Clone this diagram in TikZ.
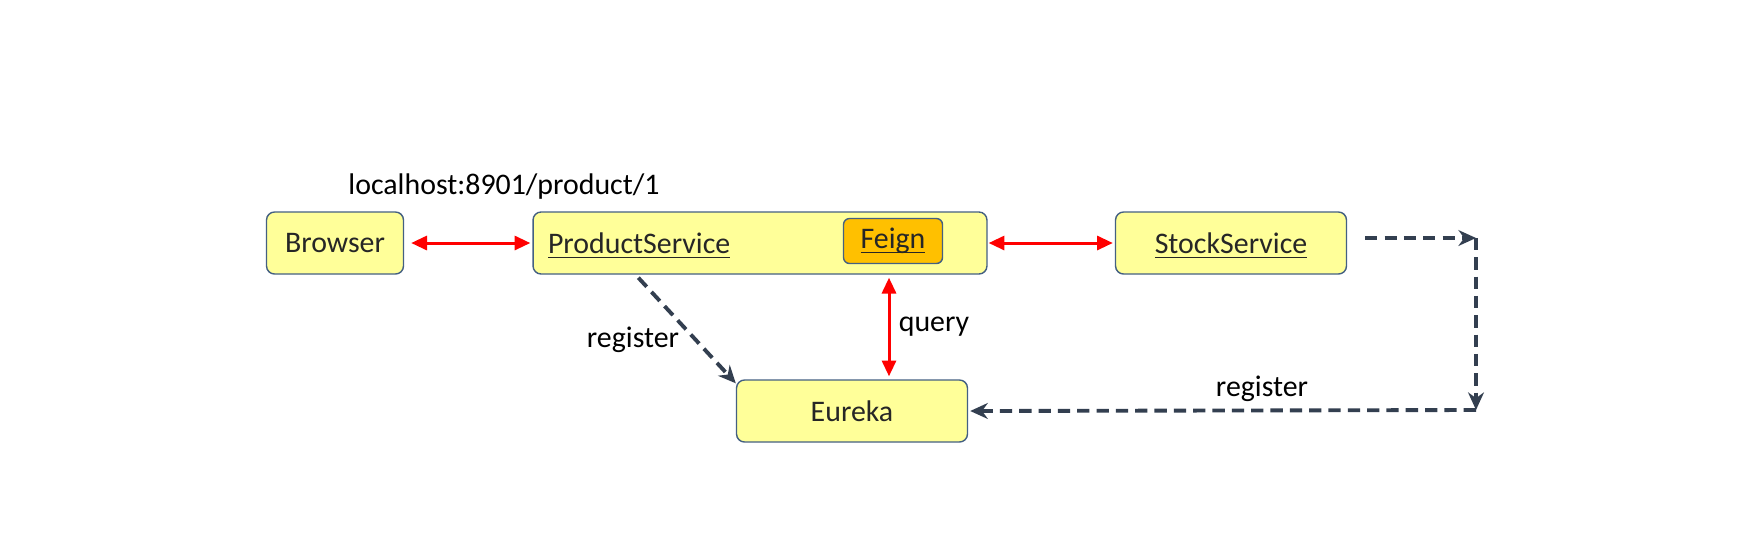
\documentclass[tikz,border=0pt]{standalone}
\usepackage{fontspec}
\setmainfont{Carlito}
\usetikzlibrary{arrows.meta,calc}
\definecolor{boxfill}{RGB}{255,255,153}
\definecolor{boxline}{RGB}{68,96,130}
\definecolor{feignfill}{RGB}{255,192,0}
\definecolor{darkdash}{RGB}{51,63,80}
\definecolor{nodetext}{RGB}{38,38,38}
% underline that keeps the text box height
\newcommand\lnk[1]{\setbox0=\hbox{#1}\rlap{\smash{\rule[-2.6pt]{\wd0}{0.7pt}}}\box0}

\begin{document}
\begin{tikzpicture}[x=0.02cm,y=-0.02cm,
	svc/.style={draw=boxline,fill=boxfill,rounded corners=0.16cm,line width=0.8pt,minimum height=1.24cm,inner sep=0pt,text=nodetext,font=\fontsize{17}{20}\selectfont},
	redarr/.style={red,line width=1.7pt,{Triangle[length=9pt,width=8pt]}-{Triangle[length=9pt,width=8pt]}},
	regarr/.style={darkdash,line width=2.2pt,dash pattern=on 7pt off 4pt,-{Stealth[length=10pt,width=9pt]}},
	lbl/.style={font=\fontsize{17}{20}\selectfont}]
		\useasboundingbox[fill=white] (0,0) rectangle (1764,556);
		% boxes
		\node[svc,minimum width=2.74cm] (browser) at (335,243) {Browser};
		\node[svc,inner xsep=0.3cm,text width=8.48cm,align=left] (product) at (760,243) {\lnk{ProductService}};
		\node[svc,fill=feignfill,minimum width=1.98cm,minimum height=0.9cm,rounded corners=0.12cm] (feign) at (893,241) {\lnk{Feign}};
		\node[svc,minimum width=4.62cm] (stock) at (1231,243) {\lnk{StockService}};
		\node[svc,minimum width=4.62cm] (eureka) at (852,411) {Eureka};
		% labels
		\node[lbl] (url) at (504,187) {localhost:8901/product/1};
		\node[lbl] (query) at (934,327) {query};
		\node[lbl] (reg1) at (633,340) {register};
		\node[lbl] (reg2) at (1262,389) {register};
		% calls
		\draw[redarr] ($(browser.east)+(7,0)$) -- ($(product.west)+(-2,0)$);
		\draw[redarr] ($(product.east)+(1,0)$) -- ($(stock.west)+(-2,0)$);
		\draw[redarr] ($(product.south)+(129,3)$) -- ($(eureka.north)+(37,-3)$);
		% registration
		\coordinate (c1) at (1476,238);
		\coordinate (c2) at (1476,410);
		\draw[regarr] ($(product.south west)+(106,3)$) -- ($(eureka.north west)+(0,4)$);
		\draw[regarr] ($(stock.east)+(18,-5)$) -- (c1);
		\draw[regarr] (c1) -- (c2);
		\draw[regarr] (c2) -- ($(eureka.east)+(2,0)$);
\end{tikzpicture}
\end{document}
